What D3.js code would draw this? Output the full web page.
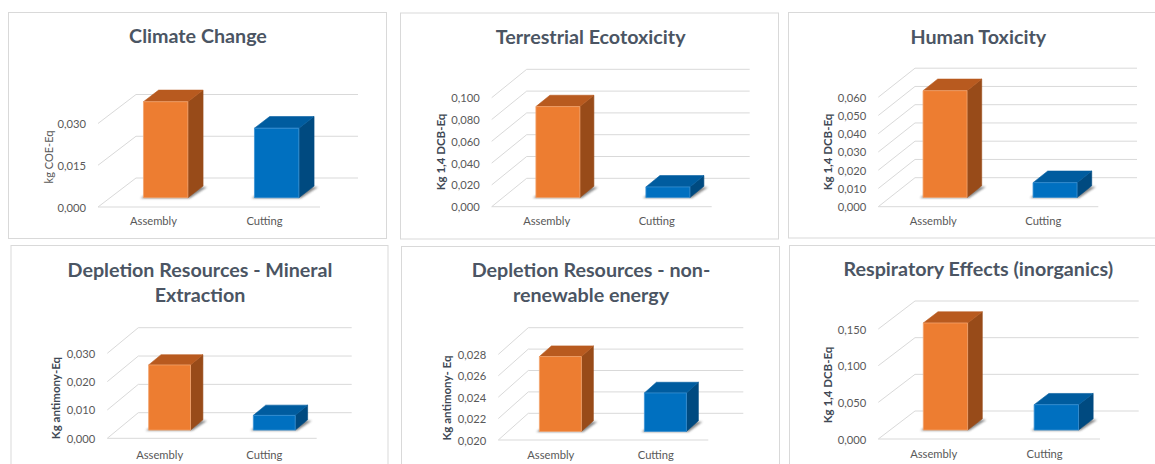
<!DOCTYPE html>
<html><head><meta charset="utf-8">
<script src="https://cdn.jsdelivr.net/npm/d3@7"></script>
<style>
html,body{margin:0;padding:0;background:#fff;overflow:hidden;}
svg{display:block;}
</style></head>
<body>
<svg id="chart" width="1155" height="464"></svg>
<script>
// ---------------- DATA ----------------
const categories = ["Assembly", "Cutting"];
const panelTitles = [
  ["Climate Change"],
  ["Terrestrial Ecotoxicity"],
  ["Human Toxicity"],
  ["Depletion Resources - Mineral", "Extraction"],
  ["Depletion Resources - non-", "renewable energy"],
  ["Respiratory Effects (inorganics)"]
];
const axisTitles = ["kg COE-Eq", "Kg 1,4 DCB-Eq", "Kg 1,4 DCB-Eq", "Kg antimony-Eq", "Kg antimony- Eq", "Kg 1,4 DCB-Eq"];
const climateChange = [0.0345, 0.0250];
const terrestrialEcotoxicity = [0.0835, 0.0098];
const humanToxicity = [0.0585, 0.0081];
const mineralExtraction = [0.0230, 0.0052];
const nonRenewableEnergy = [0.0270, 0.0236];
const respiratoryEffects = [0.1460, 0.0346];
const climateTicks = [0, 0.015, 0.030];
const terrestrialTicks = [0, 0.02, 0.04, 0.06, 0.08, 0.10];
const humanTicks = [0, 0.01, 0.02, 0.03, 0.04, 0.05, 0.06];
const mineralTicks = [0, 0.01, 0.02, 0.03];
const energyTicks = [0.020, 0.022, 0.024, 0.026, 0.028];
const respiratoryTicks = [0, 0.05, 0.10, 0.15];

const seriesValues = [climateChange, terrestrialEcotoxicity, humanToxicity, mineralExtraction, nonRenewableEnergy, respiratoryEffects];
const tickSets = [climateTicks, terrestrialTicks, humanTicks, mineralTicks, energyTicks, respiratoryTicks];

// ---------------- LAYOUT ----------------
const layout = [
  {box:[8.5,12.5,378,226],   fx:98,    fy:207,   w:222,   h:83.5,  dx:38,   dy:-29,   backExtra:0, titleX:198,   titleY:[42.5],        axX:48,    axY:157, axBold:false, catY:225},
  {box:[400.5,13,378,226],   fx:491.7, fy:206.7, w:220,   h:109,   dx:35,   dy:-28.4, backExtra:3, titleX:590.7, titleY:[44],          axX:440,   axY:152, axBold:true,  catY:225},
  {box:[788.5,12.5,380,225.5],fx:878.3,fy:206.7, w:220,   h:109.5, dx:36.7, dy:-29,   backExtra:2, titleX:978.3, titleY:[43.5],        axX:827.7, axY:152, axBold:true,  catY:225},
  {box:[11,245.5,377,240],   fx:107.3, fy:438.3, w:209.4, h:85,    dx:31,   dy:-25.6, backExtra:4, titleX:200,   titleY:[276.7,301.7], axX:55,    axY:398, axBold:true,  catY:459},
  {box:[401.5,246.5,378,240],fx:498.3, fy:440,   w:210,   h:85.6,  dx:30,   dy:-26.7, backExtra:5, titleX:591,   titleY:[277.3,301.7], axX:446,   axY:398, axBold:true,  catY:459},
  {box:[789.5,245.5,380,240],fx:878.3, fy:439,   w:221.7, h:110,   dx:36.7, dy:-28,   backExtra:2, titleX:978.3, titleY:[275.7],       axX:827.7, axY:385, axBold:true,  catY:458}
];

const colors = [
  {front:"#ED7D31", top:"#B85A1F", side:"#984B19", stroke:"#F3A46E"},
  {front:"#0070C0", top:"#005C9F", side:"#004A80", stroke:"#3A92D4"}
];
const z0 = 0.32, z1 = 0.72;
const FONT = "Lato, 'Open Sans', sans-serif";

const locale = d3.formatLocale({decimal:",", thousands:".", grouping:[3], currency:["","€"]});
const fmt = locale.format(".3f");

const svg = d3.select("#chart");
const defs = svg.append("defs");
defs.append("filter").attr("id","shadowBlur").attr("x","-20%").attr("y","-50%").attr("width","140%").attr("height","200%")
  .append("feGaussianBlur").attr("stdDeviation",1.3);

layout.forEach((L, i) => {
  const g = svg.append("g");
  const ticks = tickSets[i];
  const vals = seriesValues[i];
  const yMin = d3.min(ticks), yMax = d3.max(ticks);
  const y = d3.scaleLinear().domain([yMin, yMax]).range([L.fy, L.fy - L.h]);
  const x = d3.scaleBand().domain(categories).range([L.fx, L.fx + L.w]).paddingInner(0.6).paddingOuter(0.3);
  const px = (xx, z) => xx + z * L.dx;
  const py = (v, z) => y(v) + z * L.dy;

  // panel box
  g.append("rect").attr("x", L.box[0]).attr("y", L.box[1]).attr("width", L.box[2]).attr("height", L.box[3])
    .attr("fill", "#fff").attr("stroke", "#D9D9D9").attr("stroke-width", 1);

  // gridlines: side wall diagonals & back wall horizontals
  const grid = g.append("g").attr("stroke", "#D9D9D9").attr("stroke-width", 1).attr("fill", "none");
  ticks.forEach(t => {
    grid.append("line").attr("x1", L.fx).attr("y1", y(t)).attr("x2", px(L.fx, 1)).attr("y2", py(t, 1));
    grid.append("line").attr("x1", px(L.fx, 1)).attr("y1", py(t, 1)).attr("x2", px(L.fx + L.w, 1) + L.backExtra).attr("y2", py(t, 1));
  });
  grid.append("line").attr("x1", L.fx).attr("y1", L.fy).attr("x2", L.fx + L.w).attr("y2", L.fy);

  // bars
  categories.forEach((c, k) => {
    const v = vals[k];
    const x0 = x(c), x1 = x0 + x.bandwidth();
    const col = colors[k];
    const poly = pts => pts.map(p => p.join(",")).join(" ");
    // shadow footprint
    g.append("polygon")
      .attr("points", poly([[px(x0,z0)-3, py(yMin,z0)+0.5],[px(x1,z0)+2, py(yMin,z0)+0.5],[px(x1,z1)+4, py(yMin,z1)+1],[px(x0,z1), py(yMin,z1)+1]]))
      .attr("fill", "#3a3a3a").attr("opacity", 0.6).attr("filter", "url(#shadowBlur)");
    // side face
    g.append("polygon")
      .attr("points", poly([[px(x1,z0), py(yMin,z0)],[px(x1,z1), py(yMin,z1)],[px(x1,z1), py(v,z1)],[px(x1,z0), py(v,z0)]]))
      .attr("fill", col.side).attr("stroke", col.side).attr("stroke-width", 0.6).attr("stroke-linejoin","round");
    // top face
    g.append("polygon")
      .attr("points", poly([[px(x0,z0), py(v,z0)],[px(x1,z0), py(v,z0)],[px(x1,z1), py(v,z1)],[px(x0,z1), py(v,z1)]]))
      .attr("fill", col.top).attr("stroke", col.top).attr("stroke-width", 0.6).attr("stroke-linejoin","round");
    // front face
    g.append("polygon")
      .attr("points", poly([[px(x0,z0), py(yMin,z0)],[px(x1,z0), py(yMin,z0)],[px(x1,z0), py(v,z0)],[px(x0,z0), py(v,z0)]]))
      .attr("fill", col.front).attr("stroke", col.stroke).attr("stroke-width", 0.8);
  });

  // tick labels
  g.append("g").selectAll("text").data(ticks).join("text")
    .attr("x", L.fx - 12).attr("y", d => y(d)).attr("text-anchor", "end").attr("dominant-baseline", "central")
    .attr("font-family", FONT).attr("font-size", 11.2).attr("fill", "#595959").text(d => fmt(d));

  // category labels
  g.append("g").selectAll("text").data(categories).join("text")
    .attr("x", d => x(d) + x.bandwidth() / 2).attr("y", L.catY).attr("text-anchor", "middle")
    .attr("font-family", FONT).attr("font-size", 11.2).attr("fill", "#595959").text(d => d);

  // axis title
  g.append("text").attr("transform", `translate(${L.axX},${L.axY}) rotate(-90)`)
    .attr("text-anchor", "middle").attr("dominant-baseline", "central")
    .attr("font-family", FONT).attr("font-size", L.axBold ? 11.5 : 11).attr("font-weight", L.axBold ? 700 : 400)
    .attr("fill", L.axBold ? "#404854" : "#595959").text(axisTitles[i]);

  // title
  panelTitles[i].forEach((line, j) => {
    g.append("text").attr("x", L.titleX).attr("y", L.titleY[j]).attr("text-anchor", "middle")
      .attr("font-family", FONT).attr("font-size", 19.7).attr("font-weight", 700)
      .attr("fill", "#4B5563").text(line);
  });
});
</script>
</body></html>
